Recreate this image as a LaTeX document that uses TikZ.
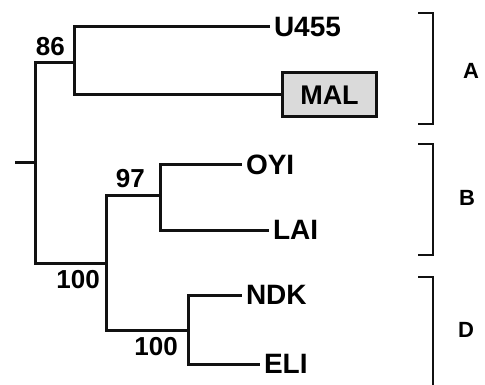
\documentclass[tikz,border=0pt]{standalone}
\usepackage{fontspec}
\setmainfont{Liberation Sans}
\usetikzlibrary{positioning}
\definecolor{Ink}{HTML}{111111}
\definecolor{Shade}{HTML}{DADADA}
\tikzset{
  taxon/.style={
    anchor=west, inner sep=0pt, outer xsep=6pt,
    font=\fontsize{28}{28}\selectfont\bfseries
  },
  marked/.style={
    anchor=west, draw=Ink, line width=3pt, fill=Shade, inner sep=0pt,
    minimum width=94pt, minimum height=44pt,
    font=\fontsize{27}{27}\selectfont\bfseries
  },
  boot/.style={inner sep=0pt, font=\fontsize{26}{26}\selectfont\bfseries},
  clade/.style={inner sep=0pt, font=\fontsize{22}{22}\selectfont\bfseries},
  branch/.style={draw=Ink, line width=3pt, line cap=rect},
  groupbar/.style={draw=Ink, line width=2.8pt}
}

\begin{document}
\begin{tikzpicture}[x=1pt,y=-1pt]
        \useasboundingbox (0,0) rectangle (485,385);
        \fill[white] (0,0) rectangle (485,385);
        % inner points of the tree
        \coordinate (stub) at (16,163);
        \coordinate (root) at (35,163);
        \coordinate (c86) at (74,63);
        \coordinate (c100a) at (106,263);
        \coordinate (c97) at (160,196);
        \coordinate (c100b) at (188,330);
        % leaves
        \node[taxon] (u455) at (268,27) {U455};
        \node[marked] (mal) at (281,95) {MAL};
        \node[taxon] (oyi) at (240,165) {OYI};
        \node[taxon] (lai) at (267,230) {LAI};
        \node[taxon] (ndk) at (240,295) {NDK};
        \node[taxon] (eli) at (258,364) {ELI};
        % support values
        \node[boot,above left=7pt and 9pt of c86] (b86) {86};
        \node[boot,above left=8pt and 15pt of c97] (b97) {97};
        \node[boot,below left=7pt and 6pt of c100a] (b100a) {100};
        \node[boot,below left=7pt and 10pt of c100b] (b100b) {100};
        % branches
        \draw[branch] (stub)--(root);
        \draw[branch] (root) |- (c86);
        \draw[branch] (root) |- (c100a);
        \draw[branch] (c86) |- (u455.west);
        \draw[branch] (c86) |- (mal.west);
        \draw[branch] (c100a) |- (c97);
        \draw[branch] (c100a) |- (c100b);
        \draw[branch] (c97) |- (oyi.west);
        \draw[branch] (c97) |- (lai.west);
        \draw[branch] (c100b) |- (ndk.west);
        \draw[branch] (c100b) |- (eli.west);
        % groups
        \draw[groupbar] (418,13)--(433,13)--(433,124)--(418,124);
        \draw[groupbar] (418,144)--(433,144)--(433,255)--(418,255);
        \draw[groupbar] (418,277)--(433,277)--(433,386);
        \node[clade] (ga) at (471,71) {A};
        \node[clade] (gb) at (467,198) {B};
        \node[clade] (gd) at (466,330) {D};
      \end{tikzpicture}
\end{document}
